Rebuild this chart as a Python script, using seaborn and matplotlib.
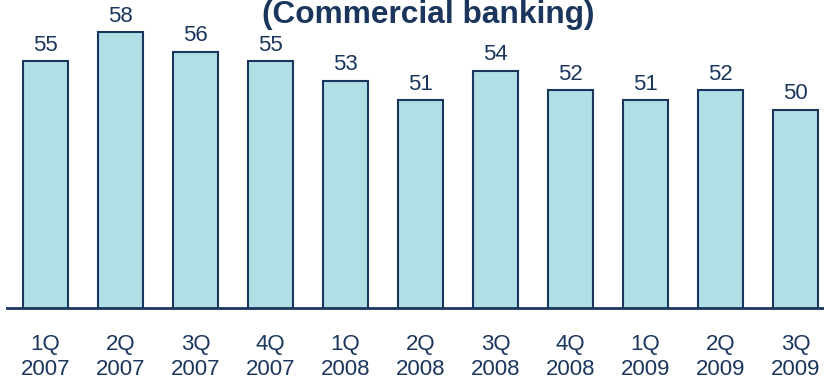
import matplotlib
matplotlib.use("Agg")
import matplotlib.pyplot as plt
import seaborn as sns
import pandas as pd

# Quarterly values, commercial banking
quarters = ["1Q", "2Q", "3Q", "4Q", "1Q", "2Q", "3Q", "4Q", "1Q", "2Q", "3Q"]
years = ["2007", "2007", "2007", "2007", "2008", "2008", "2008", "2008", "2009", "2009", "2009"]
values = [55, 58, 56, 55, 53, 51, 54, 52, 51, 52, 50]

labels = [f"{q}\n{y}" for q, y in zip(quarters, years)]
df = pd.DataFrame({"period": labels, "value": values})

navy = "#1b365d"
fill = "#b0dfe5"

sns.set_theme(style="white")
plt.rcParams["font.family"] = ["Liberation Sans", "DejaVu Sans"]

fig = plt.figure(figsize=(8.24, 3.79), dpi=100)
W, H = 824, 379
base_px = 307.7
left_px = 7
ax = fig.add_axes([left_px / W, (H - base_px) / H, 1 - left_px / W, base_px / H])

sns.barplot(data=df, x="period", y="value", color=fill, width=0.6,
            edgecolor=navy, linewidth=1.5, saturation=1, ax=ax)

ymin = 29.6
ax.set_ylim(ymin, ymin + base_px / 9.7)
ax.set_xlim(-0.513, 10.38)

for container in ax.containers:
    ax.bar_label(container, labels=[str(v) for v in values], padding=4,
                 fontsize=16, color=navy)

sns.despine(ax=ax, left=True, top=True, right=True)
ax.spines["bottom"].set_color(navy)
ax.spines["bottom"].set_linewidth(2)
ax.set_yticks([])
ax.set_xlabel("")
ax.set_ylabel("")
ax.tick_params(axis="x", length=0, pad=19, labelsize=16, labelcolor=navy)
for t in ax.get_xticklabels():
    t.set_linespacing(1.22)

fig.text(428 / W, 1 - 23 / H, "(Commercial banking)", ha="center", va="baseline",
         fontsize=22.8, fontweight="bold", color=navy)

fig.savefig("out.png", dpi=100)
